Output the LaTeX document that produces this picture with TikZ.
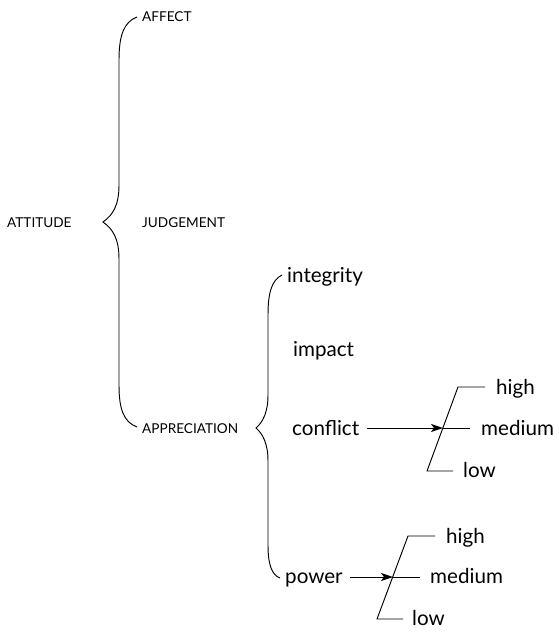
\documentclass[tikz,border=0pt]{standalone}
\usepackage{fontspec}
\setmainfont{Lato}
\usetikzlibrary{arrows.meta}
\begin{document}
\begin{tikzpicture}[x=1pt,y=-1pt,
  caps/.style={anchor=base west,inner sep=0pt,font=\fontsize{13.6}{16}\selectfont},
  word/.style={anchor=base west,inner sep=0pt,font=\fontsize{20.6}{24}\selectfont},
  line/.style={line width=0.95pt,line cap=butt},
  feed/.style={line,-{Stealth[length=12pt,width=8pt,inset=3pt]}}]
\useasboundingbox (0,0) rectangle (559,632);

% first-level system
\node[caps] (attitude) at (7,227) {ATTITUDE};
\node[caps] (affect) at (142,21.5) {AFFECT};
\node[caps] (judgement) at (142,227.5) {JUDGEMENT};
\node[caps] (appreciation) at (142,433) {APPRECIATION};
\draw[line] (137,17) .. controls (124,22) and (119,35) .. (119,60) -- (119,185)
  .. controls (119,205) and (113,215) .. (103,222)
  .. controls (113,229) and (119,239) .. (119,259) -- (119,385)
  .. controls (119,410) and (124,422) .. (137,427);

% appreciation subsystem
\node[word] (integrity) at (287,282) {integrity};
\node[word] (impact) at (293,356) {impact};
\node[word] (conflict) at (292,435) {conflict};
\node[word] (power) at (285,583) {power};
\draw[line] (282,275) .. controls (272,280) and (268,292) .. (268,315) -- (268,395)
  .. controls (268,412) and (263,422) .. (256,428)
  .. controls (263,434) and (268,444) .. (268,461) -- (268,545)
  .. controls (268,565) and (272,575) .. (280,578);

% conflict scale
\coordinate (c-top) at (458,387);
\coordinate (c-bot) at (427,471);
\coordinate (c-hi) at (485,387);
\coordinate (c-lo) at (453,471);
\coordinate (c-mid) at (443,428);
\coordinate (c-me) at (470,428);
\coordinate (c-from) at (367,428);
\node[word] (c-high) at (496,394) {high};
\node[word] (c-medium) at (481,435) {medium};
\node[word] (c-low) at (463,477) {low};
\draw[line] (c-hi) -- (c-top) -- (c-bot) -- (c-lo);
\draw[line] (c-mid) -- (c-me);
\draw[feed] (c-from) -- (c-mid);

% power scale
\coordinate (p-top) at (408,536);
\coordinate (p-bot) at (377,619);
\coordinate (p-hi) at (435,536);
\coordinate (p-lo) at (403,619);
\coordinate (p-mid) at (393,577);
\coordinate (p-me) at (420,577);
\coordinate (p-from) at (350,577);
\node[word] (p-high) at (446,543) {high};
\node[word] (p-medium) at (430,583) {medium};
\node[word] (p-low) at (412,625) {low};
\draw[line] (p-hi) -- (p-top) -- (p-bot) -- (p-lo);
\draw[line] (p-mid) -- (p-me);
\draw[feed] (p-from) -- (p-mid);
\end{tikzpicture}
\end{document}
